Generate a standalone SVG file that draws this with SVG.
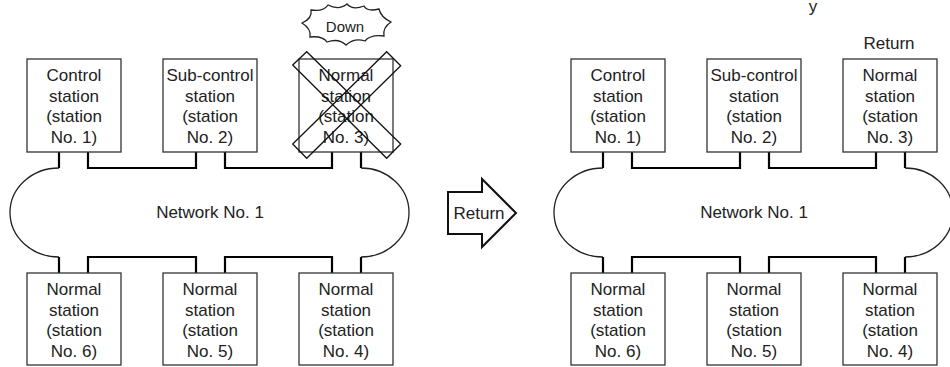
<svg xmlns="http://www.w3.org/2000/svg" width="950" height="367" viewBox="0 0 950 367">
<style>
text{font-family:"Liberation Sans",Arial,sans-serif;font-size:17px;fill:#222;text-anchor:middle}
.box{fill:#fff;stroke:#333;stroke-width:1.3}
.net{fill:none;stroke:#222;stroke-width:1.3}
.wire{fill:none;stroke:#000;stroke-width:2.2}
.cross{fill:none;stroke:#111;stroke-width:1.3}
.small{font-size:15px}
</style>
<rect width="950" height="367" fill="#fff"/>
<text x="813" y="12">y</text>

<!-- Left network -->
<g id="net-left">
<path class="net" d="M59 168 A49 44.5 0 0 0 59 257"/>
<path class="net" d="M361 168 A48 44.5 0 0 1 361 257"/>
<text x="210" y="218">Network No. 1</text>
</g>
<g id="connectors-left">
<path class="wire" d="M59 152V168M88 152V168H196V152M225 152V168H332V152M361 152V168"/>
<path class="wire" d="M59 273V257M88 273V257H196V273M225 273V257H332V273M361 273V257"/>
</g>
<g id="L1"><rect class="box" x="27" y="59" width="94" height="93"/>
<text x="74" y="81">Control</text><text x="74" y="101.5">station</text><text x="74" y="122">(station</text><text x="74" y="142.5">No. 1)</text></g>
<g id="L2"><rect class="box" x="163" y="59" width="94" height="93"/>
<text x="210" y="81">Sub-control</text><text x="210" y="101.5">station</text><text x="210" y="122">(station</text><text x="210" y="142.5">No. 2)</text></g>
<g id="L3"><rect class="box" x="299" y="59" width="94" height="93"/>
<text x="346" y="81">Normal</text><text x="346" y="101.5">station</text><text x="346" y="122">(station</text><text x="346" y="142.5">No. 3)</text>
<polygon class="cross" points="292.7,65 306.7,51.7 400.7,144 386.7,158.3"/>
<polygon class="cross" points="386.7,51.7 400.7,65.7 306.7,158.3 292.7,144"/></g>
<g id="down">
<path class="net" d="M302 23Q312.5 18.5 311 10Q323.5 12 328 5Q338.8 10.6 347 4Q352.8 10.6 364 6Q367.1 12 379 9Q380.6 17 391 22Q382.5 27.6 384 36Q370.4 34.4 365 41Q354.5 37.5 346 45Q338.8 37.9 327 42Q322.5 35.6 310 37Q311.5 28.9 302 23Z"/>
<text class="small" x="345" y="32">Down</text></g>
<g id="L6"><rect class="box" x="27" y="273" width="94" height="92"/>
<text x="74" y="295">Normal</text><text x="74" y="315.5">station</text><text x="74" y="336">(station</text><text x="74" y="356.5">No. 6)</text></g>
<g id="L5"><rect class="box" x="163" y="273" width="94" height="92"/>
<text x="210" y="295">Normal</text><text x="210" y="315.5">station</text><text x="210" y="336">(station</text><text x="210" y="356.5">No. 5)</text></g>
<g id="L4"><rect class="box" x="299" y="273" width="94" height="92"/>
<text x="346" y="295">Normal</text><text x="346" y="315.5">station</text><text x="346" y="336">(station</text><text x="346" y="356.5">No. 4)</text></g>

<!-- Return arrow -->
<g id="return-arrow">
<polygon points="448,192 482,192 482,179 516,213 482,247 482,234 448,234" fill="#fff" stroke="#111" stroke-width="2"/>
<text x="479" y="219">Return</text></g>

<!-- Right network -->
<g id="net-right">
<path class="net" d="M603 168 A49 44.5 0 0 0 603 257"/>
<path class="net" d="M905 168 A48 44.5 0 0 1 905 257"/>
<text x="754" y="218">Network No. 1</text>
</g>
<g id="connectors-right">
<path class="wire" d="M603 152V168M632 152V168H740V152M769 152V168H876V152M905 152V168"/>
<path class="wire" d="M603 273V257M632 273V257H740V273M769 273V257H876V273M905 273V257"/>
</g>
<g id="R1"><rect class="box" x="571" y="59" width="94" height="93"/>
<text x="618" y="81">Control</text><text x="618" y="101.5">station</text><text x="618" y="122">(station</text><text x="618" y="142.5">No. 1)</text></g>
<g id="R2"><rect class="box" x="707" y="59" width="94" height="93"/>
<text x="754" y="81">Sub-control</text><text x="754" y="101.5">station</text><text x="754" y="122">(station</text><text x="754" y="142.5">No. 2)</text></g>
<g id="R3"><rect class="box" x="843" y="59" width="94" height="93"/>
<text x="890" y="81">Normal</text><text x="890" y="101.5">station</text><text x="890" y="122">(station</text><text x="890" y="142.5">No. 3)</text>
<text x="889" y="49">Return</text></g>
<g id="R6"><rect class="box" x="571" y="273" width="94" height="92"/>
<text x="618" y="295">Normal</text><text x="618" y="315.5">station</text><text x="618" y="336">(station</text><text x="618" y="356.5">No. 6)</text></g>
<g id="R5"><rect class="box" x="707" y="273" width="94" height="92"/>
<text x="754" y="295">Normal</text><text x="754" y="315.5">station</text><text x="754" y="336">(station</text><text x="754" y="356.5">No. 5)</text></g>
<g id="R4"><rect class="box" x="843" y="273" width="94" height="92"/>
<text x="890" y="295">Normal</text><text x="890" y="315.5">station</text><text x="890" y="336">(station</text><text x="890" y="356.5">No. 4)</text></g>
</svg>
